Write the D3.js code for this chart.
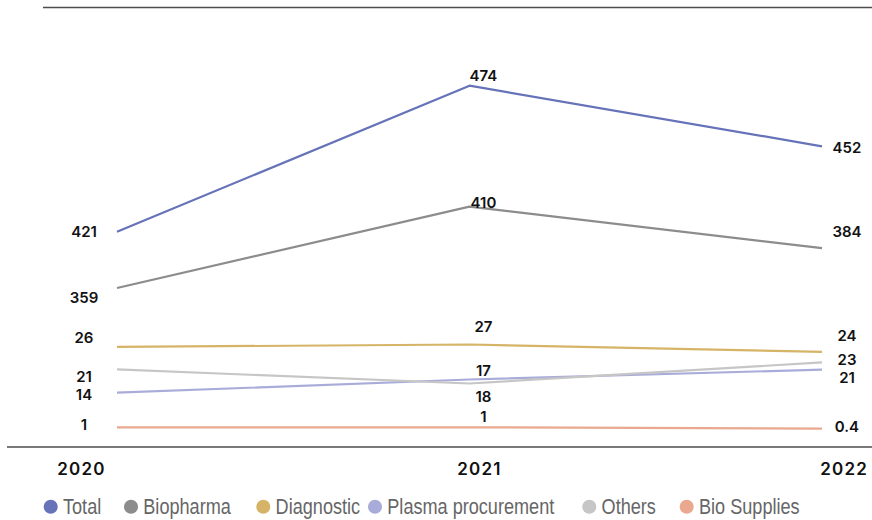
<!DOCTYPE html>
<html><head><meta charset="utf-8">
<script src="https://cdn.jsdelivr.net/npm/d3@7/dist/d3.min.js"></script>
<style>body{margin:0;background:#fff}</style>
</head><body>
<svg id="chart" width="872" height="520"></svg>
<script>
// ---- data ----
const years = ["2020", "2021", "2022"];
const seriesNames = ["Total", "Biopharma", "Diagnostic", "Plasma procurement", "Others", "Bio Supplies"];
const total = [421, 474, 452];
const biopharma = [359, 410, 384];
const diagnostic = [26, 27, 24];
const plasmaProcurement = [14, 18, 21];
const others = [21, 17, 23];
const bioSupplies = [1, 1, 0.4];

// ---- layout / style (not data) ----
const W = 872, H = 520;
const colors = ["#6673b8", "#8c8c8c", "#d5b467", "#a9acd9", "#c6c6c6", "#eaa88f"];
// each series is drawn on its own vertical track (the original uses independent scales)
const tracks = [[231.7, 85.7], [288, 206.6], [351.8, 344.5], [392.7, 369.6], [383.5, 362.4], [428.7, 427.3]];
// label vertical offsets from the point, per year
const labelDy = [
  [0, -10, 1],
  [9, -4, -17],
  [-9.7, -17.8, -16.8],
  [1.3, 17.2, 7.7],
  [7.3, -12.8, -3.4],
  [-3.3, -11.3, -2.7]
];
const labelDx = [-33, 14, 25];
const yearDx = [-36, 9.5, 21.7];
const legendX = [50.7, 131, 263.3, 375, 589.3, 686.7];

const seriesValues = [total, biopharma, diagnostic, plasmaProcurement, others, bioSupplies];
const series = seriesNames.map((name, i) => ({
  name, values: seriesValues[i], color: colors[i], track: tracks[i], dy: labelDy[i]
}));

const svg = d3.select("#chart");

const x = d3.scalePoint().domain(years).range([117, 822]);

// rules
svg.append("line").attr("x1", 43).attr("x2", W).attr("y1", 7.5).attr("y2", 7.5)
  .attr("stroke", "#4d4d4d").attr("stroke-width", 1.6);
svg.append("line").attr("x1", 7).attr("x2", W).attr("y1", 447).attr("y2", 447)
  .attr("stroke", "#4d4d4d").attr("stroke-width", 1.3);

// x axis labels
const axis = d3.axisBottom(x).tickSize(0).tickPadding(0);
const gAxis = svg.append("g").attr("transform", "translate(0,468.5)").call(axis);
gAxis.select(".domain").remove();
gAxis.selectAll(".tick text")
  .attr("dy", null).attr("y", 0)
  .attr("dominant-baseline", "central")
  .attr("dx", (d, i) => yearDx[i])
  .attr("font-family", "Inter, 'DejaVu Sans', sans-serif")
  .attr("font-weight", 600)
  .attr("font-size", 17)
  .attr("letter-spacing", 1.2)
  .attr("fill", "#111");

// lines
series.forEach(s => {
  const ext = d3.extent(s.values);
  const y = d3.scaleLinear().domain(ext).range(s.track);
  s.y = y;
  const line = d3.line().x((d, i) => x(years[i])).y(d => y(d));
  svg.append("path").datum(s.values)
    .attr("d", line)
    .attr("fill", "none")
    .attr("stroke", s.color)
    .attr("stroke-width", 2.2)
    .attr("stroke-linejoin", "round");
});

// value labels
series.forEach(s => {
  svg.append("g").selectAll("text").data(s.values).join("text")
    .attr("x", (d, i) => x(years[i]) + labelDx[i])
    .attr("y", (d, i) => s.y(d) + s.dy[i])
    .attr("text-anchor", "middle")
    .attr("dominant-baseline", "central")
    .attr("font-family", "Inter, 'DejaVu Sans', sans-serif")
    .attr("font-weight", 600)
    .attr("font-size", 15)
    .attr("fill", "#111")
    .text(d => String(d));
});

// legend
const lg = svg.append("g").attr("transform", "translate(0,506.7)");
const items = lg.selectAll("g").data(series).join("g")
  .attr("transform", (d, i) => `translate(${legendX[i]},0)`);
items.append("circle").attr("r", 7).attr("fill", d => d.color);
items.append("text")
  .attr("transform", "translate(12.3,0) scale(0.805,1)")
  .attr("dominant-baseline", "central")
  .attr("font-family", "'Liberation Sans', Arial, sans-serif")
  .attr("font-size", 22.5)
  .attr("fill", "#666")
  .text(d => d.name);
</script>
</body></html>
